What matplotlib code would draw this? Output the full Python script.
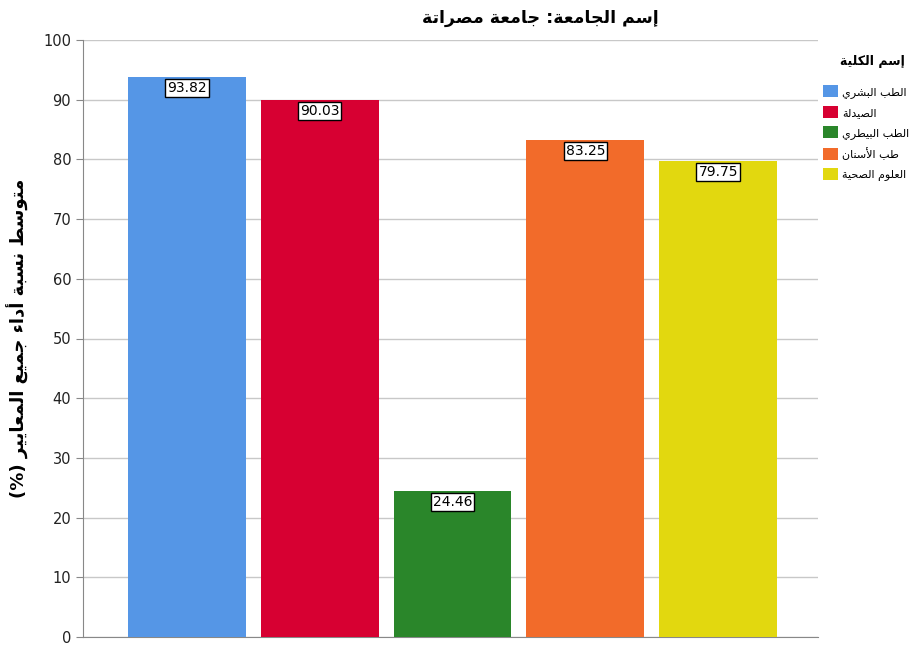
import matplotlib
matplotlib.use("Agg")
import matplotlib.pyplot as plt
from matplotlib.patches import Patch

title = "إسم الجامعة: جامعة مصراتة"
y_label = "متوسط نسبة أداء جميع المعايير (%)"
legend_title = "إسم الكلية"
colleges = ["الطب البشري", "الصيدلة", "الطب البيطري", "طب الأسنان", "العلوم الصحية"]
scores = [93.82, 90.03, 24.46, 83.25, 79.75]
colors = ["#5596e6", "#d70032", "#2a862a", "#f26b2a", "#e2d80f"]
y_ticks = [0, 10, 20, 30, 40, 50, 60, 70, 80, 90, 100]

# matplotlib has no arabic shaping, so pick presentation forms by hand
# letter -> (isolated form codepoint, number of forms)
FORMS = {
    'ء': (0xFE80, 1), 'أ': (0xFE83, 2), 'إ': (0xFE87, 2), 'ا': (0xFE8D, 2),
    'ب': (0xFE8F, 4), 'ة': (0xFE93, 2), 'ت': (0xFE95, 4), 'ج': (0xFE9D, 4),
    'ح': (0xFEA1, 4), 'د': (0xFEA9, 2), 'ر': (0xFEAD, 2), 'س': (0xFEB1, 4),
    'ش': (0xFEB5, 4), 'ص': (0xFEB9, 4), 'ط': (0xFEC1, 4), 'ع': (0xFEC9, 4),
    'ك': (0xFED9, 4), 'ل': (0xFEDD, 4), 'م': (0xFEE1, 4), 'ن': (0xFEE5, 4),
    'و': (0xFEED, 2), 'ي': (0xFEF1, 4),
    '\uFEF7': (0xFEF7, 2), '\uFEFB': (0xFEFB, 2),
}
MIRROR = {'(': ')', ')': '('}


def shape(text):
    text = text.replace('لأ', '\uFEF7').replace('لا', '\uFEFB')
    out = []
    for i, c in enumerate(text):
        if c not in FORMS:
            out.append(MIRROR.get(c, c))
            continue
        base, n = FORMS[c]
        prev = text[i - 1] if i > 0 else ''
        nxt = text[i + 1] if i + 1 < len(text) else ''
        join_prev = prev in FORMS and FORMS[prev][1] == 4
        join_next = n == 4 and nxt in FORMS and FORMS[nxt][1] > 1
        if n == 1:
            k = 0
        elif join_prev and join_next:
            k = 3
        elif join_prev:
            k = 1
        elif join_next:
            k = 2
        else:
            k = 0
        out.append(chr(base + k))
    return ''.join(reversed(out))


plt.rcParams['font.family'] = ['DejaVu Sans']

fig = plt.figure(figsize=(9.24, 6.45), dpi=100)
ax = fig.add_axes([83 / 924, 8 / 645, 735 / 924, 597 / 645])

x = list(range(len(scores)))
bars = ax.bar(x, scores, width=0.887, color=colors, zorder=3)

for rect, v in zip(bars, scores):
    ax.annotate(f"{v:.2f}", (rect.get_x() + rect.get_width() / 2, v),
                xytext=(0, -3), textcoords="offset points", ha="center", va="top",
                fontsize=10, color="black", zorder=5,
                bbox=dict(boxstyle="square,pad=0.15", fc="white", ec="black", lw=1))

ax.set_xlim(-0.78, 4.75)
ax.set_ylim(0, 100)
ax.set_yticks(y_ticks)
ax.set_xticks([])
ax.tick_params(axis="y", labelsize=10.5, length=5, color="#888888", labelcolor="#222222")
ax.grid(axis="y", color="#c8c8c8", lw=1, zorder=0)
for s in ["top", "right"]:
    ax.spines[s].set_visible(False)
for s in ["left", "bottom"]:
    ax.spines[s].set_color("#888888")

fig.text(540 / 924, 1 - 18 / 645, shape(title), ha="center", va="center",
         fontsize=12.5, fontweight="bold")
fig.text(18 / 924, 1 - 338 / 645, shape(y_label), ha="center", va="center",
         rotation=90, fontsize=13, fontweight="bold")

# legend title drawn on its own so it can sit higher above the entries
fig.text(905 / 924, 1 - 62 / 645, shape(legend_title), ha="right", va="center",
         fontsize=9, fontweight="bold")
handles = [Patch(facecolor=c, edgecolor="none") for c in colors]
fig.legend(handles, [shape(c) for c in colleges],
           loc="upper left", bbox_to_anchor=(823 / 924, 1 - 85 / 645),
           frameon=False, fontsize=8, borderpad=0, borderaxespad=0,
           handlelength=1.35, handleheight=1.3, handletextpad=0.4,
           labelspacing=0.72)

fig.savefig("out.png", dpi=100)
